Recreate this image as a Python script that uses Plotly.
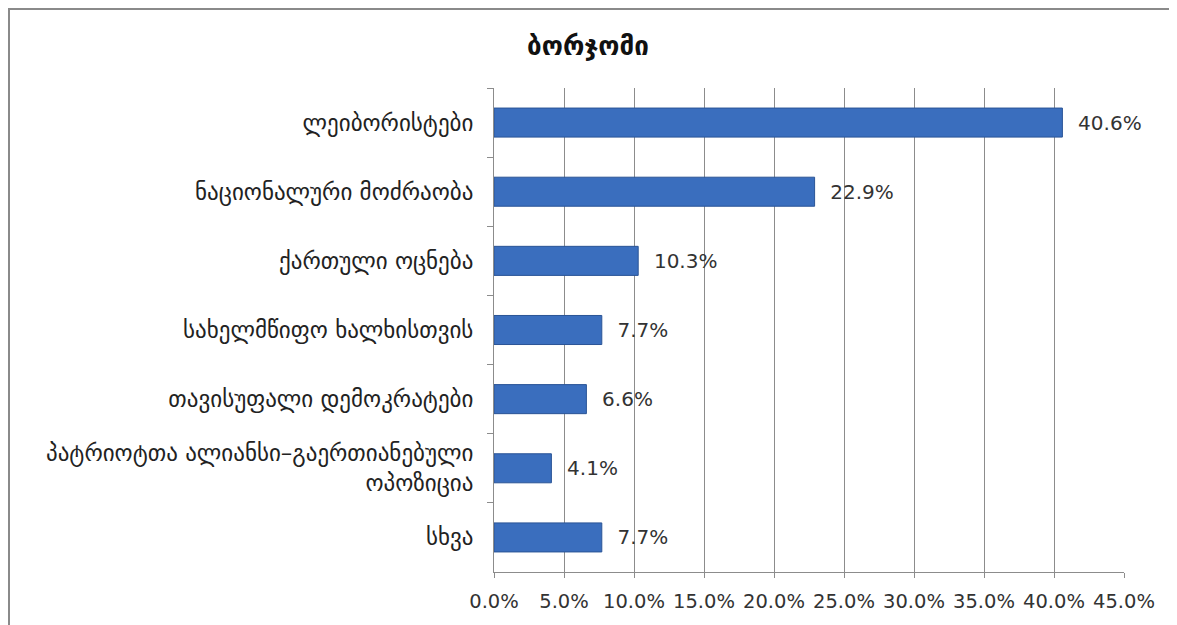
import plotly.graph_objects as go

title = "ბორჯომი"
categories = [
    "ლეიბორისტები",
    "ნაციონალური მოძრაობა",
    "ქართული ოცნება",
    "სახელმწიფო ხალხისთვის",
    "თავისუფალი დემოკრატები",
    "პატრიოტთა ალიანსი–გაერთიანებული<br>ოპოზიცია",
    "სხვა",
]
values = [40.6, 22.9, 10.3, 7.7, 6.6, 4.1, 7.7]
x_ticks = [0, 5, 10, 15, 20, 25, 30, 35, 40, 45]
x_tick_labels = [f"{v:.1f}%" for v in x_ticks]

FONT = "DejaVu Sans"

L, R, T, B = 486, 61, 80, 61
PW = 1177 - L - R
PH = 625 - T - B

fig = go.Figure(
    go.Bar(
        y=categories,
        x=values,
        orientation="h",
        marker=dict(color="#3A6EBE", line=dict(color="#2A5496", width=1)),
        text=[f"{v:.1f}%" for v in values],
        texttemplate="  %{text}",
        textposition="outside",
        textfont=dict(family=FONT, size=20, color="#333333"),
        cliponaxis=False,
        width=0.42,
    )
)

fig.update_layout(
    width=1177,
    height=625,
    paper_bgcolor="white",
    plot_bgcolor="white",
    margin=dict(l=L, r=R, t=T, b=B, autoexpand=False),
    showlegend=False,
    title=dict(
        text="<b>" + title + "</b>",
        x=580 / 1177,
        xanchor="center",
        y=1 - 38 / 625,
        yanchor="middle",
        font=dict(family=FONT, size=26, color="#111111"),
    ),
    xaxis=dict(
        range=[0, 45],
        tickvals=x_ticks,
        ticktext=x_tick_labels,
        showgrid=True,
        gridcolor="#8c8c8c",
        gridwidth=1,
        showline=True,
        linecolor="#8c8c8c",
        ticks="outside",
        ticklen=5,
        tickcolor="#8c8c8c",
        ticklabelstandoff=7,
        tickfont=dict(family=FONT, size=19.5, color="#333333"),
        zeroline=False,
        fixedrange=True,
        automargin=False,
    ),
    yaxis=dict(
        autorange="reversed",
        showline=True,
        linecolor="#8c8c8c",
        ticks="outside",
        ticklen=6,
        tickcolor="#8c8c8c",
        tickson="boundaries",
        ticklabelstandoff=15,
        tickfont=dict(family=FONT, size=23, color="#222222"),
        showgrid=False,
        automargin=False,
    ),
    shapes=[
        dict(
            type="rect",
            xref="paper",
            yref="paper",
            x0=-(L - 1) / PW,
            x1=1.5,
            y0=-0.5,
            y1=1 + (T - 1) / PH,
            line=dict(color="#8a8a8a", width=2),
            fillcolor="rgba(0,0,0,0)",
            layer="below",
        )
    ],
)

fig.write_html("out.html")
